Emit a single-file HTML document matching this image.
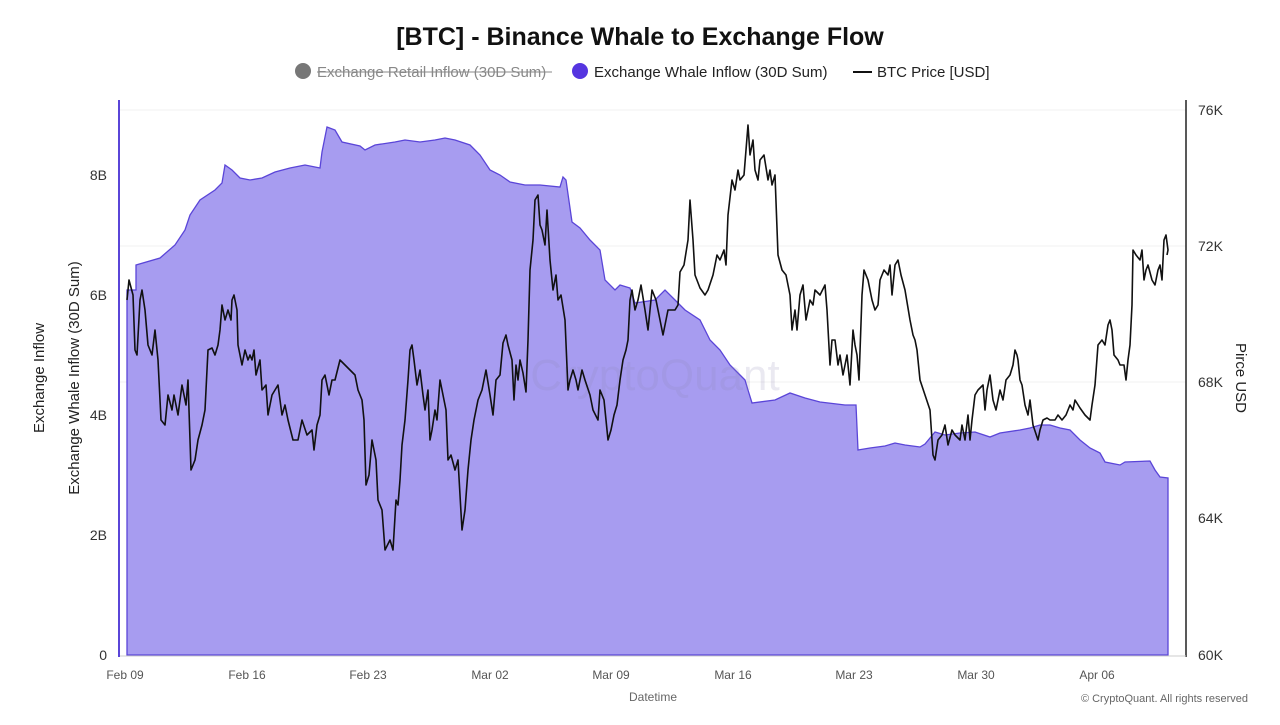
<!DOCTYPE html>
<html><head><meta charset="utf-8"><style>
body{margin:0;background:#fff;font-family:"Liberation Sans",sans-serif;}
</style></head><body>
<svg width="1280" height="720" xmlns="http://www.w3.org/2000/svg" font-family="Liberation Sans, sans-serif">
<rect width="1280" height="720" fill="#fff"/>
<text x="640" y="45" text-anchor="middle" font-size="25" font-weight="bold" fill="#111">[BTC] - Binance Whale to Exchange Flow</text>
<circle cx="303" cy="71" r="8" fill="#777"/>
<text x="317" y="77" font-size="15" fill="#888">Exchange Retail Inflow (30D Sum)</text>
<line x1="317" y1="72" x2="552" y2="72" stroke="#888" stroke-width="1"/>
<circle cx="580" cy="71" r="8" fill="#5535e0"/>
<text x="594" y="77" font-size="15" fill="#222">Exchange Whale Inflow (30D Sum)</text>
<line x1="853" y1="72" x2="872" y2="72" stroke="#111" stroke-width="2"/>
<text x="877" y="77" font-size="15" fill="#222">BTC Price [USD]</text>
<g stroke="#f0f0f0" stroke-width="1"><line x1="120" y1="110" x2="1186" y2="110"/><line x1="120" y1="246" x2="1186" y2="246"/><line x1="120" y1="382" x2="1186" y2="382"/></g>
<polygon fill="#a79cf0" stroke="#5a45d8" stroke-width="1.3" points="127,655 127,290 136,290 136,265 160,258 175,245 185,230 190,215 200,200 215,190 222,183 225,165 232,170 240,178 250,180 262,178 275,172 290,168 305,165 320,168 322,152 327,127 335,130 342,142 360,146 365,150 375,145 395,142 405,140 420,142 435,140 445,138 455,140 470,145 480,155 490,170 500,175 510,182 525,185 540,185 560,187 563,177 566,180 572,222 580,228 590,240 600,250 605,280 615,290 620,285 630,288 635,303 655,300 665,290 675,300 685,310 700,320 710,340 720,350 730,365 740,375 745,380 748,390 752,403 775,400 790,393 805,398 820,402 845,405 856,405 858,450 870,448 885,446 895,443 905,445 920,447 925,444 935,432 945,435 960,433 975,432 990,437 1000,433 1020,430 1030,428 1040,425 1050,425 1060,428 1070,430 1080,440 1090,448 1100,453 1105,462 1120,465 1125,462 1150,461 1155,470 1160,477 1168,478 1168,655"/>
<text x="655" y="390" text-anchor="middle" font-size="44" fill="#8d88b8" opacity="0.18">CryptoQuant</text>
<polyline fill="none" stroke="#111" stroke-width="1.6" stroke-linejoin="round" points="127,300 129,280 133,295 135,350 137,355 140,300 142,290 145,310 148,345 152,355 155,330 158,360 161,420 165,425 168,395 172,410 174,395 178,415 182,385 186,405 188,380 191,470 195,460 198,440 202,425 205,410 208,350 212,348 215,355 218,345 220,330 222,305 225,320 228,310 231,320 232,300 234,295 237,310 238,345 242,365 245,350 248,360 250,355 252,360 254,350 256,375 260,360 262,390 266,385 268,415 272,395 278,385 282,415 285,405 288,420 293,440 298,440 302,420 307,435 312,430 314,450 317,425 320,415 322,380 325,375 329,395 332,380 335,380 340,360 345,365 350,370 355,375 358,390 362,400 364,420 366,485 369,475 372,440 376,460 378,500 382,510 385,550 390,540 393,550 396,500 398,505 400,480 402,445 405,420 408,380 410,350 412,345 414,360 417,385 420,370 423,395 425,410 428,390 430,440 432,430 435,410 437,420 440,380 443,395 446,410 448,460 451,455 455,470 458,460 462,530 465,510 468,470 471,440 474,420 478,400 482,390 486,370 490,395 493,415 496,380 500,375 503,343 506,335 508,345 512,360 514,400 516,365 518,380 520,360 523,373 526,392 528,340 530,270 533,240 535,200 538,195 540,225 542,230 545,245 547,210 550,260 553,290 556,275 558,300 561,295 565,320 568,390 570,380 573,370 576,380 578,390 582,370 585,380 590,395 593,410 598,420 600,390 604,400 608,440 611,430 614,415 617,405 620,380 623,360 626,350 628,340 630,300 632,290 635,310 638,300 641,285 645,310 648,330 652,290 656,300 663,335 668,310 675,310 678,305 680,272 684,265 688,240 690,200 693,240 695,275 700,288 705,295 708,290 713,275 717,255 720,260 724,250 726,265 728,215 732,180 735,190 738,170 740,180 744,175 746,150 748,125 750,155 753,140 755,170 758,180 760,160 764,155 768,180 770,170 772,185 775,175 778,255 782,270 786,275 790,295 792,330 795,310 797,330 800,295 803,285 806,320 810,300 813,305 815,290 820,295 825,285 827,310 830,365 832,340 835,340 838,365 840,355 843,375 847,355 850,385 853,330 855,345 857,355 859,380 862,295 864,270 868,280 872,300 875,310 878,305 880,280 884,270 888,275 890,265 892,295 895,265 898,260 901,275 905,290 910,320 913,335 915,340 917,350 920,380 925,395 930,410 933,455 935,460 938,440 942,435 945,425 948,445 952,430 955,435 960,440 962,425 965,440 968,415 970,440 972,420 975,395 978,390 983,385 985,410 987,390 990,375 993,400 996,410 1000,390 1003,400 1006,380 1010,375 1013,365 1015,350 1017,355 1018,360 1020,380 1022,385 1025,405 1028,415 1030,400 1033,425 1038,440 1040,430 1043,420 1047,418 1050,420 1055,420 1058,415 1062,420 1066,415 1070,405 1073,410 1075,400 1080,408 1085,415 1090,420 1092,405 1095,385 1098,345 1102,340 1105,345 1108,325 1110,320 1112,330 1114,355 1118,360 1120,365 1124,365 1126,380 1128,360 1130,345 1132,305 1133,250 1136,255 1140,260 1142,250 1144,280 1146,270 1148,265 1152,280 1155,285 1158,270 1160,265 1162,280 1164,240 1166,235 1168,250 1167,255"/>
<line x1="119" y1="100" x2="119" y2="657" stroke="#5a45d8" stroke-width="2"/>
<line x1="1186" y1="100" x2="1186" y2="657" stroke="#222" stroke-width="1.5"/>
<line x1="120" y1="656" x2="1186" y2="656" stroke="#ccc" stroke-width="1"/>
<g font-size="14" fill="#333" text-anchor="end">
<text x="107" y="180">8B</text><text x="107" y="300">6B</text><text x="107" y="420">4B</text><text x="107" y="540">2B</text><text x="107" y="660">0</text>
</g>
<g font-size="14" fill="#333">
<text x="1198" y="115">76K</text><text x="1198" y="251">72K</text><text x="1198" y="387">68K</text><text x="1198" y="523">64K</text><text x="1198" y="660">60K</text>
</g>
<g font-size="12" fill="#555" text-anchor="middle">
<text x="125" y="679">Feb 09</text><text x="247" y="679">Feb 16</text><text x="368" y="679">Feb 23</text><text x="490" y="679">Mar 02</text><text x="611" y="679">Mar 09</text><text x="733" y="679">Mar 16</text><text x="854" y="679">Mar 23</text><text x="976" y="679">Mar 30</text><text x="1097" y="679">Apr 06</text>
</g>
<text x="653" y="701" text-anchor="middle" font-size="12" fill="#666">Datetime</text>
<text x="1248" y="702" text-anchor="end" font-size="11" fill="#666">© CryptoQuant. All rights reserved</text>
<text transform="translate(44,378) rotate(-90)" text-anchor="middle" font-size="15" fill="#222">Exchange Inflow</text>
<text transform="translate(79,378) rotate(-90)" text-anchor="middle" font-size="15" fill="#222">Exchange Whale Inflow (30D Sum)</text>
<text transform="translate(1236,378) rotate(90)" text-anchor="middle" font-size="15" fill="#222">Pirce USD</text>
</svg>
</body></html>
